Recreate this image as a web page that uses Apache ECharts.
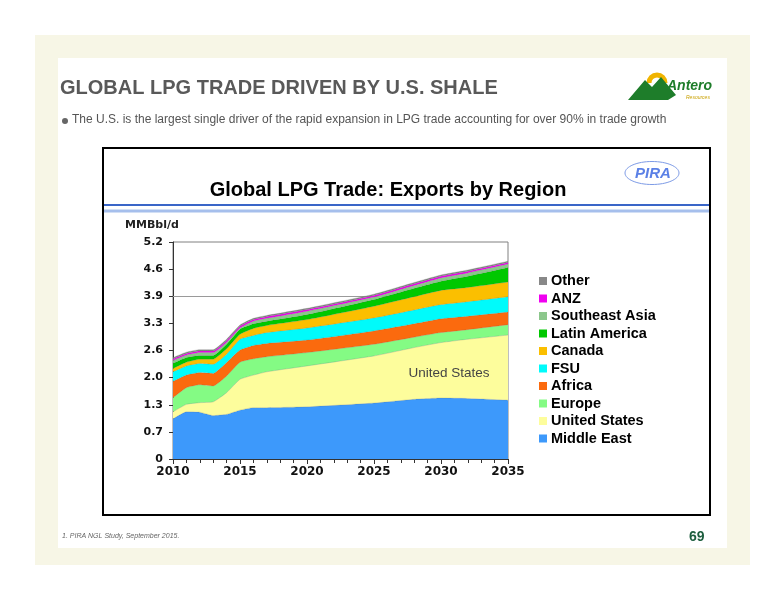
<!DOCTYPE html>
<html>
<head>
<meta charset="utf-8">
<script src="https://cdn.jsdelivr.net/npm/echarts@6/dist/echarts.min.js"></script>
<style>
html,body{margin:0;padding:0;background:#fff;}
#main{width:776px;height:600px;}
</style>
</head>
<body>
<div id="main"></div>
<script>
// ---- data (MMBbl/d, exports by region) ----
const years = [2010, 2011, 2012, 2013, 2014, 2015, 2016, 2017, 2020, 2025, 2028, 2030, 2032, 2035];
const middleEast   = [0.96, 1.13, 1.12, 1.04, 1.07, 1.17, 1.23, 1.23, 1.25, 1.34, 1.43, 1.46, 1.45, 1.41];
const unitedStates = [0.17, 0.18, 0.23, 0.33, 0.52, 0.74, 0.78, 0.86, 0.98, 1.13, 1.24, 1.33, 1.42, 1.56];
const europe       = [0.34, 0.40, 0.43, 0.38, 0.40, 0.41, 0.39, 0.36, 0.32, 0.28, 0.25, 0.24, 0.23, 0.25];
const africa       = [0.39, 0.30, 0.29, 0.30, 0.32, 0.29, 0.32, 0.32, 0.30, 0.32, 0.32, 0.33, 0.32, 0.30];
const fsu          = [0.23, 0.22, 0.22, 0.22, 0.20, 0.26, 0.24, 0.26, 0.29, 0.31, 0.33, 0.34, 0.35, 0.37];
const canada       = [0.08, 0.09, 0.10, 0.12, 0.13, 0.12, 0.17, 0.17, 0.20, 0.28, 0.32, 0.34, 0.34, 0.35];
const latinAmerica = [0.12, 0.11, 0.09, 0.09, 0.11, 0.12, 0.11, 0.10, 0.12, 0.16, 0.20, 0.22, 0.27, 0.35];
const southeastAsia= [0.07, 0.06, 0.07, 0.07, 0.05, 0.03, 0.06, 0.07, 0.08, 0.06, 0.07, 0.08, 0.08, 0.08];
const anz          = [0.04, 0.04, 0.04, 0.04, 0.04, 0.04, 0.04, 0.04, 0.04, 0.04, 0.04, 0.04, 0.04, 0.04];
const other        = [0.03, 0.03, 0.03, 0.03, 0.03, 0.03, 0.03, 0.03, 0.03, 0.03, 0.03, 0.03, 0.03, 0.03];

const seriesNames  = ['Middle East', 'United States', 'Europe', 'Africa', 'FSU', 'Canada', 'Latin America', 'Southeast Asia', 'ANZ', 'Other'];
const seriesValues = [middleEast, unitedStates, europe, africa, fsu, canada, latinAmerica, southeastAsia, anz, other];
const seriesColors = ['#3d99fb', '#fdfd9c', '#84fb84', '#fb6a0e', '#00fbfb', '#fbbf00', '#00c800', '#8cc78c', '#f000f0', '#888888'];
const legendOrder  = ['Other', 'ANZ', 'Southeast Asia', 'Latin America', 'Canada', 'FSU', 'Africa', 'Europe', 'United States', 'Middle East'];

const yTickLabels = ['0', '0.7', '1.3', '2.0', '2.6', '3.3', '3.9', '4.6', '5.2'];
const yStep = 0.65;

const chart = echarts.init(document.getElementById('main'), null, {renderer: 'canvas'});

const series = seriesNames.map((name, i) => {
  const s = {
    name: name,
    type: 'line',
    stack: 'total',
    symbol: 'none',
    smooth: 0.15,
    // rows are [value, year] so that the value (not the year) is the stacked dimension
    dimensions: ['value', 'year'],
    encode: {x: 'year', y: 'value'},
    lineStyle: {width: 0.6, color: 'rgba(90,90,90,0.35)'},
    areaStyle: {color: seriesColors[i], opacity: 1},
    itemStyle: {color: seriesColors[i]},
    data: years.map((y, k) => [seriesValues[i][k], y])
  };
  if (i === 0) {
    s.markLine = {
      silent: true, symbol: 'none', z: 1,
      label: {show: false},
      lineStyle: {color: '#9a9a9a', type: 'solid', width: 1},
      data: [{yAxis: yStep * 6}]
    };
  }
  if (name === 'United States') {
    s.markPoint = {
      symbol: 'circle', symbolSize: 0, silent: true, z: 5,
      label: {show: true, position: 'inside', formatter: 'United States',
        color: '#444', fontFamily: 'Liberation Sans, Arial', fontSize: 13.5},
      data: [{coord: [2030.6, 2.06]}]
    };
  }
  return s;
});

const option = {
  animation: false,
  textStyle: {fontFamily: 'Liberation Sans, Arial'},
  graphic: [
    {type: 'rect', z: -10, shape: {x: 35, y: 35, width: 715, height: 530}, style: {fill: '#f7f6e6'}},
    {type: 'rect', z: -9, shape: {x: 58, y: 58, width: 669, height: 490}, style: {fill: '#ffffff'}},
    {type: 'text', z: -8, left: 60, top: 78, style: {text: 'GLOBAL LPG TRADE DRIVEN BY U.S. SHALE',
      font: 'bold 20px "Liberation Sans", Arial', fill: '#595959'}},
    {type: 'circle', z: -8, shape: {cx: 65, cy: 121, r: 3}, style: {fill: '#666'}},
    {type: 'text', z: -8, left: 72, top: 114, style: {text: 'The U.S. is the largest single driver of the rapid expansion in LPG trade accounting for over 90% in trade growth',
      font: '12px "Liberation Sans", Arial', fill: '#555'}},
    // Antero logo
    {type: 'arc', z: -8, shape: {cx: 657, cy: 83, r: 8, startAngle: Math.PI, endAngle: 2 * Math.PI}, style: {stroke: '#f0b400', lineWidth: 5, fill: null}},
    {type: 'polygon', z: -7, shape: {points: [[628, 100], [645, 80], [652, 87], [661, 77], [676, 95], [668, 100]]}, style: {fill: '#1e7d2a'}},
    {type: 'text', z: -6, left: 667, top: 79, style: {text: 'Antero', font: 'italic bold 14px "Liberation Sans", Arial', fill: '#1e7d2a'}},
    {type: 'text', z: -6, left: 686, top: 95, style: {text: 'Resources', font: 'italic 5px "Liberation Sans", Arial', fill: '#c9a000'}},
    // chart box
    {type: 'rect', z: -5, shape: {x: 103, y: 148, width: 607, height: 367}, style: {fill: '#ffffff', stroke: '#000', lineWidth: 2}},
    {type: 'text', z: -4, left: 'center', top: 180, style: {text: 'Global LPG Trade: Exports by Region',
      font: 'bold 20px "Liberation Sans", Arial', fill: '#000'}},
    {type: 'line', z: -4, shape: {x1: 104, y1: 205, x2: 709, y2: 205}, style: {stroke: '#3a66c8', lineWidth: 2}},
    {type: 'line', z: -4, shape: {x1: 104, y1: 211, x2: 709, y2: 211}, style: {stroke: '#a6bfec', lineWidth: 3}},
    {type: 'ellipse', z: -4, shape: {cx: 652, cy: 173, rx: 27, ry: 11.5}, style: {fill: null, stroke: '#7d9be6', lineWidth: 1}},
    {type: 'text', z: -4, left: 635, top: 166, style: {text: 'PIRA', font: 'italic bold 15px "Liberation Sans", Arial', fill: '#5b80e6'}},
    {type: 'text', z: -4, left: 125, top: 220, style: {text: 'MMBbl/d', font: 'bold 11px "DejaVu Sans"', fill: '#222'}},
    // footer
    {type: 'text', z: -4, left: 62, top: 533, style: {text: '1. PIRA NGL Study, September 2015.', font: 'italic 7px "Liberation Sans", Arial', fill: '#666'}},
    {type: 'text', z: -4, left: 689, top: 530, style: {text: '69', font: 'bold 14px "Liberation Sans", Arial', fill: '#1d5e3e'}}
  ],
  legend: {
    orient: 'vertical',
    left: 539, top: 273.5, padding: 0,
    itemWidth: 8, itemHeight: 8, itemGap: 2.5,
    icon: 'rect',
    data: legendOrder,
    textStyle: {fontFamily: 'Liberation Sans, Arial', fontWeight: 'bold', fontSize: 14.5, color: '#000', padding: [0, 0, 0, -1]},
    selectedMode: false
  },
  grid: {left: 173, right: 268, top: 242, bottom: 141, show: true, borderColor: '#808080', borderWidth: 1, backgroundColor: 'transparent'},
  xAxis: {
    type: 'value', min: 2010, max: 2035, interval: 5,
    axisLine: {show: true, lineStyle: {color: '#333', width: 1}},
    axisTick: {show: true, length: 5, lineStyle: {color: '#333'}},
    minorTick: {show: true, splitNumber: 5, length: 4, lineStyle: {color: '#333'}},
    splitLine: {show: false},
    axisLabel: {margin: 7, color: '#111', fontFamily: 'DejaVu Sans', fontWeight: 'bold', fontSize: 12, formatter: v => String(v)}
  },
  yAxis: {
    type: 'value', min: 0, max: 5.2, interval: yStep,
    axisLine: {show: true, lineStyle: {color: '#333', width: 1}},
    axisTick: {show: true, length: 4, lineStyle: {color: '#333'}},
    splitLine: {show: false},
    axisLabel: {margin: 10, color: '#111', fontFamily: 'DejaVu Sans', fontWeight: 'bold', fontSize: 11,
      formatter: v => yTickLabels[Math.round(v / yStep)]}
  },
  series: series
};
chart.setOption(option);
</script>
</body>
</html>
